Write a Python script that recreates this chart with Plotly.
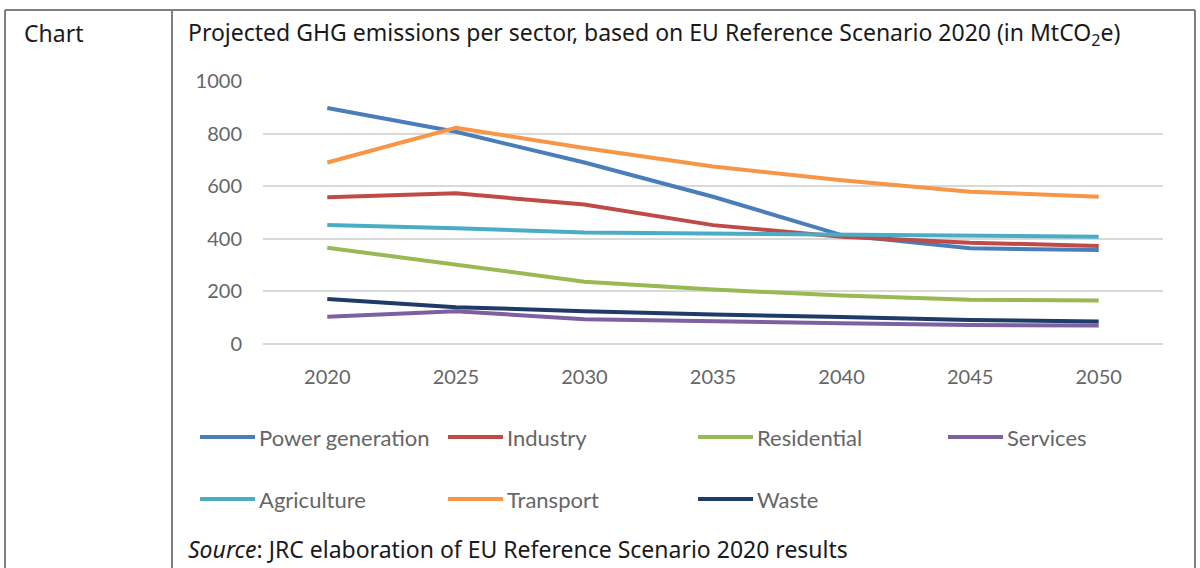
import plotly.graph_objects as go

# Projected GHG emissions per sector (MtCO2e), EU Reference Scenario 2020
years = ["2020", "2025", "2030", "2035", "2040", "2045", "2050"]
power_generation = [897, 807, 690, 560, 414, 364, 357]
industry = [558, 573, 530, 452, 408, 385, 373]
residential = [366, 300, 237, 207, 184, 168, 165]
services = [104, 125, 94, 85, 79, 72, 70]
agriculture = [452, 440, 424, 420, 418, 412, 408]
transport = [690, 822, 745, 675, 623, 579, 560]
waste = [171, 140, 125, 112, 103, 91, 86]

series_names = ["Power generation", "Industry", "Residential", "Services",
                "Agriculture", "Transport", "Waste"]
series_values = [power_generation, industry, residential, services,
                 agriculture, transport, waste]
series_colors = ["#4A7EBB", "#BE4B48", "#98B954", "#7D60A0",
                 "#4BACC6", "#F79646", "#1F3B68"]

# page geometry (pixels)
W, H = 1200, 568
ML, MR, MT, MB = 263, 37, 81, 224
PW, PH = W - ML - MR, H - MT - MB


def px(x):
    return (x - ML) / PW


def py(y):
    return (H - MB - y) / PH


# legend entry anchors (left end of sample line, vertical centre), in pixels
legend_slots = [(200, 437), (448, 437), (698, 437), (948, 437),
                (200, 499), (448, 499), (698, 499)]

AXIS_FONT = dict(family="Lato", size=20, color="#666666")
TEXT_FONT = dict(family="Noto Sans", size=23, color="#1a1a1a")

fig = go.Figure()
for name, vals, col in zip(series_names, series_values, series_colors):
    fig.add_trace(go.Scatter(x=years, y=vals, name=name, mode="lines",
                             line=dict(color=col, width=4),
                             showlegend=False))

shapes = []
annotations = []

# table frame
frame = dict(type="line", xref="paper", yref="paper",
             line=dict(color="#7F7F7F", width=2))
shapes.append(dict(frame, x0=px(5), x1=px(1195), y0=py(10), y1=py(10)))
for xv in (5, 172, 1195):
    shapes.append(dict(frame, x0=px(xv), x1=px(xv), y0=py(10), y1=py(H + 5)))

annotations.append(dict(text="Chart", x=px(22), y=py(33), xref="paper", yref="paper",
                        xanchor="left", yanchor="middle", showarrow=False, font=TEXT_FONT))
annotations.append(dict(
    text="Projected GHG emissions per sector, based on EU Reference Scenario 2020 (in MtCO<sub>2</sub>e)",
    x=px(186), y=py(33), xref="paper", yref="paper",
    xanchor="left", yanchor="middle", showarrow=False, font=TEXT_FONT))
annotations.append(dict(
    text="<i>Source</i>: JRC elaboration of EU Reference Scenario 2020 results",
    x=px(186), y=py(549), xref="paper", yref="paper",
    xanchor="left", yanchor="middle", showarrow=False, font=TEXT_FONT))

# legend drawn as line samples with labels
for (lx, ly), name, col in zip(legend_slots, series_names, series_colors):
    shapes.append(dict(type="line", xref="paper", yref="paper",
                       x0=px(lx), x1=px(lx + 55), y0=py(ly), y1=py(ly),
                       line=dict(color=col, width=4)))
    annotations.append(dict(text=name, x=px(lx + 57), y=py(ly), xref="paper", yref="paper",
                            xanchor="left", yanchor="middle", showarrow=False,
                            font=dict(family="Lato", size=22, color="#666666")))

fig.update_layout(
    width=W, height=H,
    margin=dict(l=ML, r=MR, t=MT, b=MB),
    paper_bgcolor="white", plot_bgcolor="white",
    shapes=shapes, annotations=annotations,
    showlegend=False,
)
fig.update_xaxes(type="category", range=[-0.5, 6.5], showgrid=False, showline=False,
                 zeroline=False, ticks="", tickfont=AXIS_FONT, ticklabelstandoff=19,
                 fixedrange=True)
fig.update_yaxes(range=[0, 1000], dtick=200, showgrid=True, gridcolor="#D9D9D9",
                 gridwidth=1.5, zeroline=True, zerolinecolor="#D9D9D9", zerolinewidth=1.5,
                 showline=False, ticks="", tickfont=AXIS_FONT, ticklabelstandoff=20,
                 fixedrange=True)

fig.write_html("out.html", config={"displayModeBar": False})
